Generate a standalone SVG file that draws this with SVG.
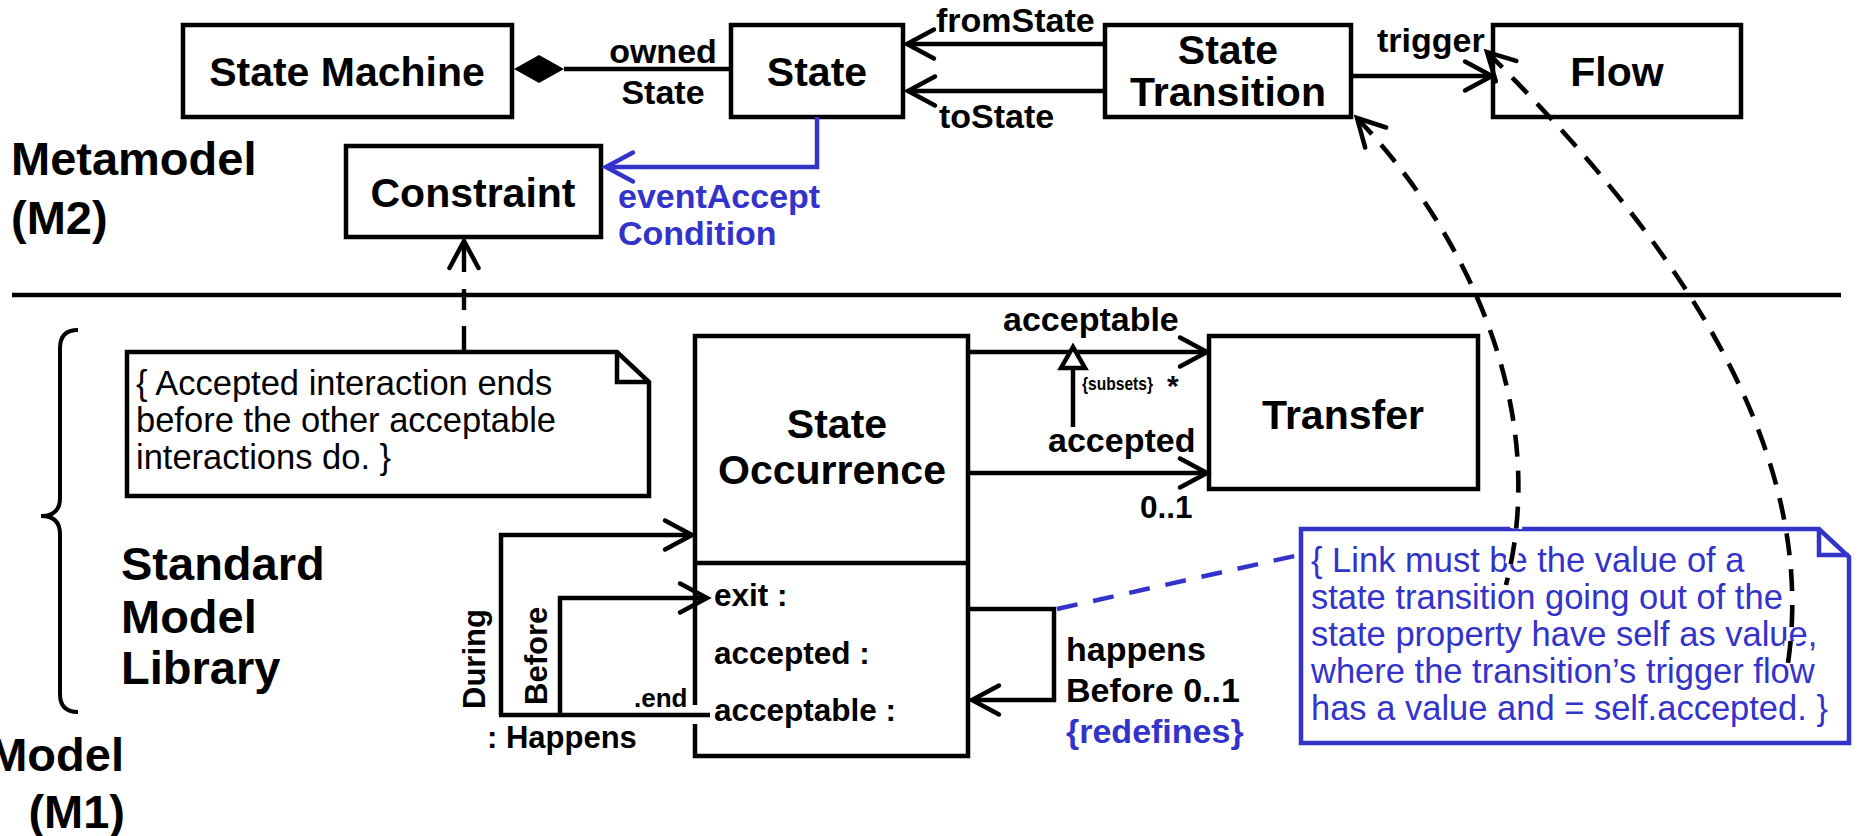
<svg xmlns="http://www.w3.org/2000/svg" width="1864" height="836" viewBox="0 0 1864 836">
<style>
  text{font-family:"Liberation Sans",Arial,Helvetica,sans-serif;fill:#000}
  .title{font-weight:bold;font-size:41px}
  .lab{font-weight:bold;font-size:34px}
  .attr{font-weight:bold;font-size:31.5px}
  .lvl{font-weight:bold;font-size:47px}
  .note{font-size:34.5px}
  .blue{fill:#3333cc}
  .box{fill:#fff;stroke:#000;stroke-width:4.5}
  .ln{fill:none;stroke:#000;stroke-width:4.5}
  .bln{fill:none;stroke:#3333cc;stroke-width:4.5}
  .dash{fill:none;stroke:#000;stroke-width:4.6;stroke-dasharray:22 14}
  .halo{fill:none;stroke:#fff;stroke-width:12;stroke-dasharray:22 14}
</style>
<defs>
  <marker id="arrow" viewBox="-34 -20 40 40" markerWidth="40" markerHeight="40" refX="0" refY="0" orient="auto-start-reverse" markerUnits="userSpaceOnUse">
    <path d="M-27,-14.5L0,0L-27,14.5" fill="none" stroke="#000" stroke-width="4.5" stroke-linecap="round"/>
  </marker>
  <marker id="arrowBlue" viewBox="-34 -20 40 40" markerWidth="40" markerHeight="40" refX="0" refY="0" orient="auto" markerUnits="userSpaceOnUse">
    <path d="M-27,-14.5L0,0L-27,14.5" fill="none" stroke="#3333cc" stroke-width="4.5" stroke-linecap="round"/>
  </marker>
  <clipPath id="noteClip"><rect x="1290" y="518" width="574" height="232"/></clipPath>
</defs>

<!-- level separator and level labels -->
<path class="ln" d="M12,295H1841"/>
<path d="M78,330Q60,330 60,348V498Q60,516 41,516Q60,516 60,534V694Q60,712 78,712" fill="none" stroke="#000" stroke-width="4"/>
<text class="lvl" x="11" y="175">Metamodel</text>
<text class="lvl" x="11" y="234">(M2)</text>
<text class="lvl" x="121" y="580">Standard</text>
<text class="lvl" x="121" y="633">Model</text>
<text class="lvl" x="121" y="684">Library</text>
<text class="lvl" x="124" y="771" text-anchor="end">Model</text>
<text class="lvl" x="125" y="828" text-anchor="end">(M1)</text>

<!-- metamodel classes -->
<g id="state-machine">
  <rect class="box" x="183" y="25" width="329" height="92"/>
  <text class="title" x="347" y="86" text-anchor="middle">State Machine</text>
</g>
<g id="state">
  <rect class="box" x="731" y="25" width="172" height="92"/>
  <text class="title" x="817" y="86" text-anchor="middle">State</text>
</g>
<g id="state-transition">
  <rect class="box" x="1105" y="25" width="246" height="92"/>
  <text class="title" x="1228" y="64" text-anchor="middle">State</text>
  <text class="title" x="1228" y="106" text-anchor="middle">Transition</text>
</g>
<g id="flow">
  <rect class="box" x="1493" y="25" width="248" height="92"/>
  <text class="title" x="1617" y="86" text-anchor="middle">Flow</text>
</g>
<g id="constraint">
  <rect class="box" x="346" y="146" width="255" height="91"/>
  <text class="title" x="473" y="207" text-anchor="middle">Constraint</text>
</g>

<!-- library classes -->
<g id="state-occurrence">
  <rect class="box" x="695" y="336" width="273" height="420"/>
  <path class="ln" d="M695,563H968"/>
  <text class="title" x="837" y="438" text-anchor="middle">State</text>
  <text class="title" x="832" y="484" text-anchor="middle">Occurrence</text>
  <text class="attr" x="714" y="606">exit :</text>
  <text class="attr" x="714" y="664">accepted :</text>
  <text class="attr" x="714" y="721">acceptable :</text>
</g>
<g id="transfer">
  <rect class="box" x="1209" y="336" width="269" height="153"/>
  <text class="title" x="1343" y="429" text-anchor="middle">Transfer</text>
</g>

<!-- constraint notes -->
<g id="note-accepted">
  <path class="box" d="M127,352H617L649,382V496H127Z"/>
  <path class="ln" d="M617,352V382H649"/>
  <text class="note" x="136" y="395">{ Accepted interaction ends</text>
  <text class="note" x="136" y="432">before the other acceptable</text>
  <text class="note" x="136" y="469">interactions do. }</text>
</g>
<g id="note-link">
  <path d="M1301,529H1819L1849,557V743H1301Z" fill="#fff" stroke="#3333cc" stroke-width="4.5"/>
  <path class="bln" d="M1819,529V555H1849"/>
  <text class="note blue" x="1311" y="572">{ Link must be the value of a</text>
  <text class="note blue" x="1311" y="609">state transition going out of the</text>
  <text class="note blue" x="1311" y="646">state property have self as value,</text>
  <text class="note blue" x="1311" y="683">where the transition’s trigger flow</text>
  <text class="note blue" x="1311" y="720">has a value and = self.accepted. }</text>
</g>

<!-- connectors -->
<g id="connectors">
  <!-- ownedState composition -->
  <path class="ln" d="M564,69H731"/>
  <polygon points="514,69 539,55 564,69 539,83" fill="#000"/>
  <text class="lab" x="663" y="63" text-anchor="middle">owned</text>
  <text class="lab" x="663" y="104" text-anchor="middle">State</text>

  <!-- fromState / toState -->
  <path class="ln" d="M1105,44H907" marker-end="url(#arrow)"/>
  <path class="ln" d="M1105,91H908" marker-end="url(#arrow)"/>
  <text class="lab" x="936" y="32">fromState</text>
  <text class="lab" x="939" y="128">toState</text>

  <!-- trigger -->
  <path class="ln" d="M1351,76H1492" marker-end="url(#arrow)"/>
  <text class="lab" x="1377" y="52">trigger</text>

  <!-- eventAcceptCondition -->
  <path class="bln" d="M817,117V167H606" marker-end="url(#arrowBlue)"/>
  <text class="lab blue" x="618" y="208">eventAccept</text>
  <text class="lab blue" x="618" y="245">Condition</text>

  <!-- note to Constraint -->
  <path d="M464,241V352" fill="none" stroke="#000" stroke-width="4.4" stroke-dasharray="31 17 21 16 30" marker-start="url(#arrow)"/>

  <!-- acceptable / accepted -->
  <path class="ln" d="M970,352H1207" marker-end="url(#arrow)"/>
  <path class="ln" d="M970,473H1207" marker-end="url(#arrow)"/>
  <path class="ln" d="M1073,368V427"/>
  <polygon points="1073,347 1061,368 1085,368" fill="#fff" stroke="#000" stroke-width="4.5" stroke-linejoin="miter"/>
  <text class="lab" x="1003" y="331">acceptable</text>
  <text x="1082" y="390" font-size="18" font-weight="bold" textLength="71" lengthAdjust="spacingAndGlyphs">{subsets}</text>
  <text x="1167" y="396" font-size="30" font-weight="bold">*</text>
  <text class="lab" x="1048" y="452">accepted</text>
  <text x="1140" y="518" font-size="31.5" font-weight="bold">0..1</text>

  <!-- happensBefore self link -->
  <path class="ln" d="M970,609H1054V700H972" marker-end="url(#arrow)"/>
  <text class="lab" x="1066" y="661">happens</text>
  <text class="lab" x="1066" y="702">Before 0..1</text>
  <text class="lab blue" x="1066" y="743">{redefines}</text>

  <!-- : Happens links -->
  <path class="ln" d="M501,715V535H692" marker-end="url(#arrow)"/>
  <path class="ln" d="M560,715V598H707" marker-end="url(#arrow)"/>
  <rect x="692" y="705" width="6" height="19" fill="#fff"/>
  <path class="ln" d="M499,715H710"/>
  <text x="485" y="709" font-size="31" font-weight="bold" transform="rotate(-90 485 709)">During</text>
  <text x="547" y="705" font-size="31" font-weight="bold" transform="rotate(-90 547 705)">Before</text>
  <text x="634" y="707" font-size="26" font-weight="bold">.end</text>
  <text x="487" y="748" font-size="31" font-weight="bold">: Happens</text>

  <!-- link note attachment -->
  <path d="M1057,609L1299,555" fill="none" stroke="#3333cc" stroke-width="4.5" stroke-dasharray="21 16"/>

  <!-- trace links from the note into the metamodel -->
  <g clip-path="url(#noteClip)">
    <path class="halo" d="M1357,118C1467,233 1551,410 1506,585"/>
    <path class="halo" d="M1487,52C1637,202 1823,423 1788,663"/>
  </g>
  <path class="dash" d="M1357,118C1467,233 1551,410 1506,585" marker-start="url(#arrow)"/>
  <path class="dash" d="M1487,52C1637,202 1823,423 1788,663" marker-start="url(#arrow)"/>
</g>
</svg>
